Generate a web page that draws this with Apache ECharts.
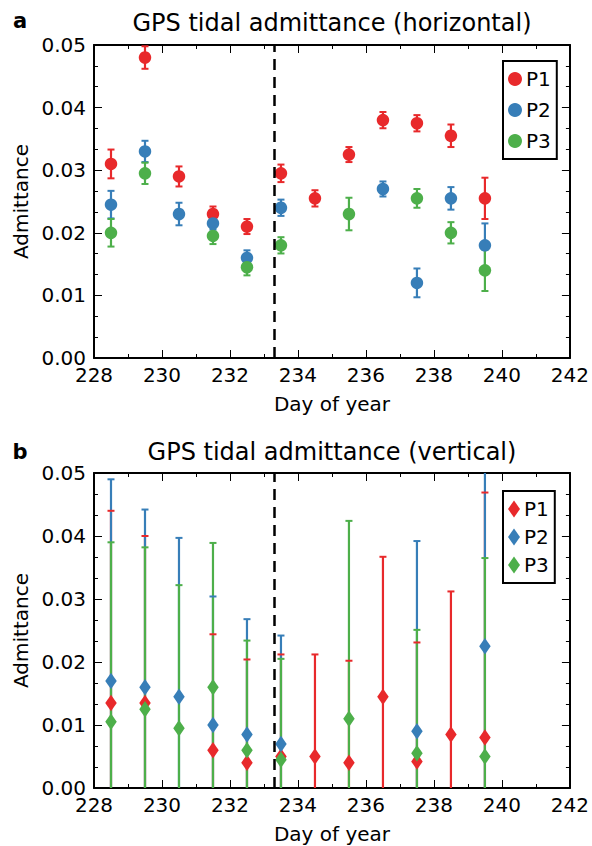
<!DOCTYPE html>
<html><head><meta charset="utf-8">
<script src="https://cdn.jsdelivr.net/npm/echarts@6/dist/echarts.min.js"></script>
<style>html,body{margin:0;padding:0;background:#fff}#c{width:592px;height:846px}</style>
</head><body><div id="c"></div>
<script>
// ---- tick labels ----
const xTicks = [228, 230, 232, 234, 236, 238, 240, 242];
const yTicks = [0.00, 0.01, 0.02, 0.03, 0.04, 0.05];
const eventDay = 233.3;
const seriesNames = ['P1', 'P2', 'P3'];

// ---- panel a: horizontal ----
const hP1Days = [228.5, 229.5, 230.5, 231.5, 232.5, 233.5, 234.5, 235.5, 236.5, 237.5, 238.5, 239.5];
const hP1Vals = [0.031, 0.048, 0.029, 0.023, 0.021, 0.0295, 0.0255, 0.0325, 0.038, 0.0375, 0.0355, 0.0255];
const hP1Errs = [0.0023, 0.0018, 0.0016, 0.0012, 0.0012, 0.0014, 0.0013, 0.0012, 0.0013, 0.0013, 0.0018, 0.0033];

const hP2Days = [228.5, 229.5, 230.5, 231.5, 232.5, 233.5, 236.5, 237.5, 238.5, 239.5];
const hP2Vals = [0.0245, 0.033, 0.023, 0.0215, 0.016, 0.024, 0.027, 0.012, 0.0255, 0.018];
const hP2Errs = [0.0022, 0.0017, 0.0018, 0.0010, 0.0012, 0.0013, 0.0012, 0.0023, 0.0018, 0.0035];

const hP3Days = [228.5, 229.5, 231.5, 232.5, 233.5, 235.5, 237.5, 238.5, 239.5];
const hP3Vals = [0.020, 0.0295, 0.0195, 0.0145, 0.018, 0.023, 0.0255, 0.020, 0.014];
const hP3Errs = [0.0022, 0.0017, 0.0013, 0.0013, 0.0013, 0.0026, 0.0015, 0.0017, 0.0033];

// ---- panel b: vertical ----
const vP1Days = [228.5, 229.5, 231.5, 232.5, 233.5, 234.5, 235.5, 236.5, 237.5, 238.5, 239.5];
const vP1Vals = [0.0135, 0.0135, 0.006, 0.004, 0.005, 0.005, 0.004, 0.0145, 0.0042, 0.0085, 0.008];
const vP1Errs = [0.0305, 0.0265, 0.0184, 0.0164, 0.0162, 0.0162, 0.0162, 0.0222, 0.0189, 0.0227, 0.0389];

const vP2Days = [228.5, 229.5, 230.5, 231.5, 232.5, 233.5, 237.5, 239.5];
const vP2Vals = [0.017, 0.016, 0.0145, 0.010, 0.0085, 0.007, 0.009, 0.0225];
const vP2Errs = [0.032, 0.0282, 0.0252, 0.0204, 0.0183, 0.0172, 0.0302, 0.030];

const vP3Days = [228.5, 229.5, 230.5, 231.5, 232.5, 233.5, 235.5, 237.5, 239.5];
const vP3Vals = [0.0105, 0.0125, 0.0095, 0.016, 0.006, 0.0045, 0.011, 0.0055, 0.005];
const vP3Errs = [0.0285, 0.0257, 0.0227, 0.0229, 0.0174, 0.016, 0.0314, 0.0196, 0.0315];

const colors = ['#e8292b', '#377eb8', '#4daf4a'];
const FONT = '"DejaVu Sans", sans-serif';
const LABEL_SIZE = 20;

const panels = [
  { days: [hP1Days, hP2Days, hP3Days], vals: [hP1Vals, hP2Vals, hP3Vals], errs: [hP1Errs, hP2Errs, hP3Errs], symbol: 'circle', size: 12.5 },
  { days: [vP1Days, vP2Days, vP3Days], vals: [vP1Vals, vP2Vals, vP3Vals], errs: [vP1Errs, vP2Errs, vP3Errs], symbol: 'diamond', size: [11.5, 16.5] }
];

function bounds(params, api) {
  const x = api.value(0), y = api.value(1), e = api.value(2);
  const cs = params.coordSys;
  return { top: api.coord([x, y + e]), bot: api.coord([x, y - e]), yMin: cs.y, yMax: cs.y + cs.height };
}
function renderBar(params, api) {
  const b = bounds(params, api);
  const y1 = Math.max(b.top[1], b.yMin), y2 = Math.min(b.bot[1], b.yMax);
  return { type: 'line', shape: { x1: b.top[0], y1: y1, x2: b.top[0], y2: y2 },
    style: { stroke: api.visual('color'), lineWidth: 2.2 } };
}
function renderCap(params, api) {
  const b = bounds(params, api);
  const children = [];
  [b.top, b.bot].forEach(p => {
    if (p[1] >= b.yMin - 0.5 && p[1] <= b.yMax + 0.5) {
      children.push({ type: 'line', shape: { x1: p[0] - 3.5, y1: p[1], x2: p[0] + 3.5, y2: p[1] },
        style: { stroke: api.visual('color'), lineWidth: 2 } });
    }
  });
  return { type: 'group', children: children };
}

const grids = [
  { left: 94, right: 22, top: 45, height: 313 },
  { left: 94, right: 22, top: 473, height: 315 }
];

const xAxes = [], yAxes = [], series = [];
grids.forEach((g, gi) => {
  const common = {
    type: 'value', gridIndex: gi, min: 228, max: 242, interval: 2,
    axisLine: { show: true, onZero: false, lineStyle: { color: '#000', width: 2 } },
    axisTick: { show: true, inside: true, length: 8, lineStyle: { color: '#000', width: 1 } },
    minorTick: { show: true, splitNumber: 2, length: 4, lineStyle: { color: '#000', width: 1 } },
    splitLine: { show: false }
  };
  xAxes.push(Object.assign({}, common, {
    position: 'bottom',
    name: 'Day of year', nameLocation: 'middle', nameGap: 36,
    nameTextStyle: { fontFamily: FONT, fontSize: LABEL_SIZE, color: '#000' },
    axisLabel: { fontFamily: FONT, fontSize: LABEL_SIZE, color: '#000', margin: 7,
      formatter: v => (xTicks.indexOf(v) >= 0 ? String(v) : '') }
  }));
  xAxes.push(Object.assign({}, common, { position: 'top', axisLabel: { show: false } }));
  const ycommon = {
    type: 'value', gridIndex: gi, min: 0, max: 0.05, interval: 0.01,
    axisLine: { show: true, onZero: false, lineStyle: { color: '#000', width: 2 } },
    axisTick: { show: true, inside: true, length: 8, lineStyle: { color: '#000', width: 1 } },
    minorTick: { show: true, splitNumber: 3, length: 4, lineStyle: { color: '#000', width: 1 } },
    splitLine: { show: false }
  };
  yAxes.push(Object.assign({}, ycommon, {
    position: 'left',
    name: 'Admittance', nameLocation: 'middle', nameGap: 62,
    nameTextStyle: { fontFamily: FONT, fontSize: LABEL_SIZE, color: '#000' },
    axisLabel: { fontFamily: FONT, fontSize: LABEL_SIZE, color: '#000', margin: 8,
      formatter: v => {
        const t = yTicks.find(k => Math.abs(k - v) < 1e-9);
        return t === undefined ? '' : t.toFixed(2);
      } }
  }));
  yAxes.push(Object.assign({}, ycommon, { position: 'right', axisLabel: { show: false } }));

  const p = panels[gi];
  const xi = gi * 2, yi = gi * 2;
  for (let s = 0; s < 3; s++) {
    series.push({ type: 'custom', name: '_bar' + gi + s, xAxisIndex: xi, yAxisIndex: yi, z: 2, silent: true,
      itemStyle: { color: colors[s] }, renderItem: renderBar,
      data: p.days[s].map((d, i) => [d, p.vals[s][i], p.errs[s][i]]) });
  }
  for (let s = 0; s < 3; s++) {
    series.push({ type: 'custom', name: '_cap' + gi + s, xAxisIndex: xi, yAxisIndex: yi, z: 3, silent: true,
      itemStyle: { color: colors[s] }, renderItem: renderCap,
      data: p.days[s].map((d, i) => [d, p.vals[s][i], p.errs[s][i]]) });
  }
  for (let s = 0; s < 3; s++) {
    const ser = { type: 'scatter', name: seriesNames[s], xAxisIndex: xi, yAxisIndex: yi, z: 4,
      symbol: p.symbol, symbolSize: p.size, itemStyle: { color: colors[s], opacity: 1 },
      data: p.days[s].map((d, i) => [d, p.vals[s][i]]) };
    if (s === 0) {
      ser.markLine = { silent: true, symbol: ['none', 'none'], label: { show: false },
        lineStyle: { color: '#000', type: [11, 7], width: 2.5 }, emphasis: { disabled: true },
        data: [{ xAxis: eventDay }] };
    }
    series.push(ser);
  }
});

const legends = [
  { top: 61, itemHeight: 14, itemWidth: 14, itemGap: 11, icon: 'circle' },
  { top: 491, itemHeight: 17, itemWidth: 12, itemGap: 8, icon: 'diamond' }
].map(l => ({
  orient: 'vertical', left: 503, top: l.top,
  itemWidth: l.itemWidth, itemHeight: l.itemHeight, itemGap: l.itemGap,
  padding: [8, 6, 8, 5], borderColor: '#000', borderWidth: 2,
  textStyle: { fontFamily: FONT, fontSize: LABEL_SIZE, color: '#000', padding: [0, 0, 0, -1] },
  data: seriesNames.map(n => ({ name: n, icon: l.icon })),
  selectedMode: false
}));

const chart = echarts.init(document.getElementById('c'), null, { renderer: 'svg' });
chart.setOption({
  animation: false,
  backgroundColor: '#fff',
  grid: grids,
  xAxis: xAxes,
  yAxis: yAxes,
  legend: legends,
  series: series,
  graphic: [
    { type: 'text', x: 332, y: 23, style: { text: 'GPS tidal admittance (horizontal)', font: '24px ' + FONT, textAlign: 'center', textVerticalAlign: 'middle', fill: '#000' } },
    { type: 'text', x: 20, y: 21, style: { text: 'a', font: 'bold 21px ' + FONT, textAlign: 'center', textVerticalAlign: 'middle', fill: '#000' } },
    { type: 'text', x: 332, y: 452, style: { text: 'GPS tidal admittance (vertical)', font: '24px ' + FONT, textAlign: 'center', textVerticalAlign: 'middle', fill: '#000' } },
    { type: 'text', x: 20, y: 452, style: { text: 'b', font: 'bold 21px ' + FONT, textAlign: 'center', textVerticalAlign: 'middle', fill: '#000' } }
  ]
});
</script></body></html>
